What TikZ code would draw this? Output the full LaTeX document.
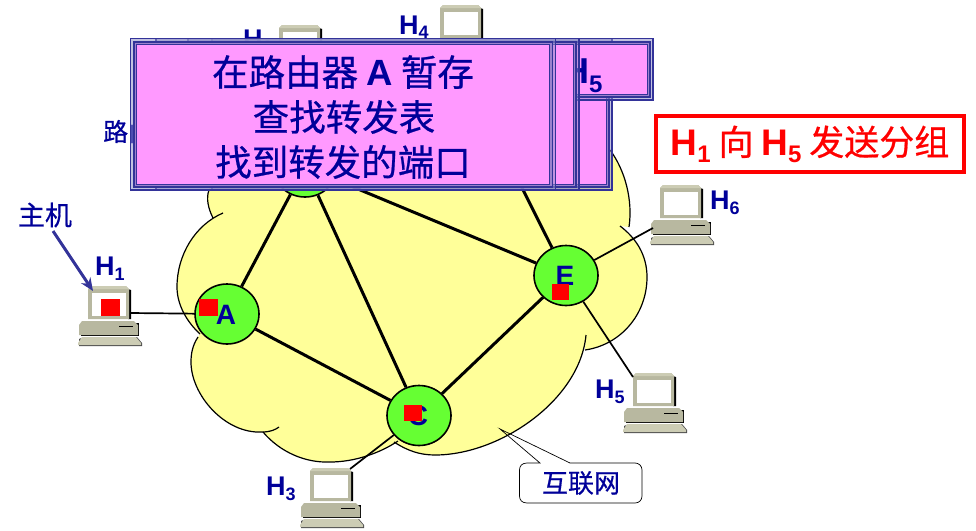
\documentclass[tikz,border=0pt]{standalone}
\usepackage{fontspec}
\setmainfont{Liberation Sans}
\newfontfamily\cjk{Noto Sans CJK SC}[FakeBold=0.6]
\usetikzlibrary{shapes.geometric,arrows.meta}
\definecolor{navyt}{HTML}{000099}
\definecolor{frameb}{HTML}{333399}
\definecolor{cloudy}{HTML}{FFFF99}
\definecolor{routerg}{HTML}{66FF33}
\definecolor{popm}{HTML}{FF99FF}
\definecolor{compa}{HTML}{B8B8A0}
\definecolor{compb}{HTML}{CCCCB4}
\tikzset{
  router/.style={ellipse,draw=black,line width=1.6pt,fill=routerg,minimum width=64pt,minimum height=60pt,inner sep=0pt},
  link/.style={line width=3pt,black},
  access/.style={line width=1.7pt,black},
  cloudedge/.style={line width=1.2pt,black},
  lab/.style={inner sep=0pt,anchor=base west,text=navyt,font=\bfseries\fontsize{27}{27}\selectfont},
  rt/.style={inner sep=0pt,text=navyt,font=\bfseries\fontsize{28}{28}\selectfont},
  redsq/.style={fill=red,draw=none},
}
\newcommand{\hname}[1]{H\raisebox{-5pt}{\fontsize{18}{18}\selectfont #1}}
\newcommand{\comp}[2]{%
  \begin{scope}[shift={(#1,#2)}]
    \fill[black] (40,3) -- (43,4) -- (43,33) -- (40,33) -- cycle;
    \fill[compa] (3,0) -- (38,0) -- (41,3) -- (41,33) -- (0,33) -- (0,3) -- cycle;
    \fill[compb] (3,0) -- (38,0) -- (41,3) -- (0,3) -- cycle;
    \fill[white] (4,7) rectangle (38,30);
    \fill[black] (-7,37) rectangle (51,50);
    \fill[compa] (-9,39) -- (-6,35) -- (46,35) -- (50,39) -- (50,49) -- (-9,49) -- cycle;
    \draw[black,line width=.8pt] (31,40) -- (45,40);
    \fill[black!70] (-9,53) -- (-4,51) -- (49,51) -- (54,57) -- (54,60) -- (-9,60) -- cycle;
    \fill[compb] (-6,51) -- (48,51) -- (53,57) -- (53,59) -- (-10,59) -- (-10,57) -- cycle;
  \end{scope}}
\newcommand{\popup}[4]{%
  \fill[fill=white!45!frameb,fill opacity=.55] (#1,#2) rectangle (#3,#4);
  \fill[fill=frameb] (#1+2.5,#2+2.5) rectangle (#3-2.5,#4-2.5);
  \fill[fill=white!35!frameb!75!popm] (#1+4,#2+4) rectangle (#3-4,#4-4);
  \fill[fill=frameb] (#1+5.2,#2+5.2) rectangle (#3-5.2,#4-5.2);
  \fill[fill=popm] (#1+6.4,#2+6.4) rectangle (#3-6.4,#4-6.4);
  \draw[frameb,line width=1.1pt] (#1,#2) rectangle (#3,#4);}
\def\cloudA{(209,190) .. controls (206,198) and (208,208) .. (213,218)}
\def\cloudB{(223,213) .. controls (195,225) and (177,255) .. (177,287) .. controls (177,305) and (187,322) .. (200,334)}
\def\cloudC{(198,337) .. controls (192,346) and (191,355) .. (191,362) .. controls (191,395) and (225,434) .. (262,432) .. controls (270,432) and (275,430) .. (279,427)}
\def\cloudD{(263,432) .. controls (280,452) and (305,463) .. (330,462) .. controls (355,462) and (380,453) .. (398,441)}
\def\cloudE{(394,442) .. controls (408,451) and (420,455) .. (435,455) .. controls (500,455) and (580,400) .. (586,335)}
\def\cloudF{(585,350) .. controls (620,345) and (647,315) .. (647,277) .. controls (647,255) and (636,238) .. (620,226)}
\def\cloudG{(629,227) .. controls (633,200) and (625,170) .. (610,150)}
\begin{document}
\begin{tikzpicture}[x=1pt,y=-1pt]
\useasboundingbox (0,0) rectangle (976,530);
% cloud
\fill[cloudy] \cloudA -- \cloudB -- \cloudC -- \cloudD -- \cloudE -- \cloudF -- \cloudG -- (209,150) -- cycle;
\draw[cloudedge] \cloudA;
\draw[cloudedge] \cloudB;
\draw[cloudedge] \cloudC;
\draw[cloudedge] \cloudD;
\draw[cloudedge] \cloudE;
\draw[cloudedge] \cloudF;
\draw[cloudedge] \cloudG;
% computers
\comp{88}{286}
\comp{310}{468}
\comp{633}{373}
\comp{660}{185}
\comp{440}{5}
\comp{279}{25}
\coordinate (P1) at (130,313);
\coordinate (P3) at (350,469);
\coordinate (P5) at (633,377);
\coordinate (P6) at (653,228);
\coordinate (hs) at (53,231);
\coordinate (ht) at (93,291);
% routers
\node[router] (A) at (227,314) {};
\node[router] (B) at (305,167) {};
\node[router] (C) at (419,415.5) {};
\node[router] (D) at (503,150) {};
\node[router] (E) at (566,275.5) {};
\draw[link] (A) -- (B);
\draw[link] (A) -- (C);
\draw[link] (B) -- (C);
\draw[link] (B) -- (E);
\draw[link] (C) -- (E);
\draw[link] (D) -- (E);
\draw[access] (P1) -- (A);
\draw[access] (P3) -- (C);
\draw[access] (P5) -- (E);
\draw[access] (P6) -- (E);
\node[rt] (la) at (226,315) {A};
\node[rt] (lc) at (418,416) {C};
\node[rt] (le) at (565,276) {E};
% labels
\node[lab] (h1) at (95,275) {\hname{1}};
\node[lab] (h2) at (243,48) {\hname{2}};
\node[lab] (h3) at (266,495) {\hname{3}};
\node[lab] (h4) at (399,34) {\hname{4}};
\node[lab] (h5) at (595,398) {\hname{5}};
\node[lab] (h6) at (710,209) {\hname{6}};
\node[inner sep=0pt,text=navyt,font=\cjk\fontsize{25}{25}\selectfont,anchor=base west] (rlab) at (103,141) {路由器};
\node[inner sep=0pt,text=navyt,font=\cjk\fontsize{27}{27}\selectfont] (host) at (45,215) {主机};
\draw[frameb,line width=3pt,-{Stealth[length=13pt,width=11pt]}] (hs) -- (ht);
% red squares
\fill[redsq] (101,299) rectangle (120,316);
\fill[redsq] (199,299) rectangle (218,316);
\fill[redsq] (404,405) rectangle (422,421);
\fill[redsq] (552,284) rectangle (569,300);
% callout
\draw[black,line width=.7pt] (500,429) -- (540,463) -- (527,463) .. controls (522,463) and (519.5,466) .. (519.5,470) -- (519.5,496) .. controls (519.5,500) and (522,503) .. (527,503) -- (635,503) .. controls (639,503) and (642,500) .. (642,496) -- (642,470) .. controls (642,466) and (639,463) .. (635,463) -- (570,463) -- cycle;
\node[inner sep=0pt,text=navyt,font=\cjk\fontsize{26}{26}\selectfont] (net) at (581,483) {互联网};
% popups
\popup{212}{38.5}{612}{190}
\popup{188}{38.5}{653}{100}
\node[inner sep=0pt,anchor=base west,text=navyt,font=\bfseries\fontsize{36}{36}\selectfont] (hfive) at (563,83) {H\raisebox{-9pt}{\fontsize{24}{24}\selectfont 5}};
\popup{156}{38.5}{579}{190}
\popup{130.5}{38.5}{555.5}{190}
\node[inner sep=0pt,text=navyt,font=\cjk\fontsize{36.5}{36.5}\selectfont] (p1) at (343,72) {在路由器 {\fontspec{Liberation Sans}\bfseries A} 暂存};
\node[inner sep=0pt,text=navyt,font=\cjk\fontsize{36.5}{36.5}\selectfont] (p2) at (344,117) {查找转发表};
\node[inner sep=0pt,text=navyt,font=\cjk\fontsize{36.5}{36.5}\selectfont] (p3) at (343,162) {找到转发的端口};
% red box
\node[draw=red,line width=4pt,fill=white,minimum width=308pt,minimum height=56pt,inner sep=0pt,text=red,font=\cjk\fontsize{35}{35}\selectfont] (title) at (810,144) {{\fontspec{Liberation Sans}\bfseries\fontsize{37}{37}\selectfont H\raisebox{-7pt}{\fontsize{24}{24}\selectfont 1}} 向 {\fontspec{Liberation Sans}\bfseries\fontsize{37}{37}\selectfont H\raisebox{-7pt}{\fontsize{24}{24}\selectfont 5}} 发送分组};
\end{tikzpicture}
\end{document}
